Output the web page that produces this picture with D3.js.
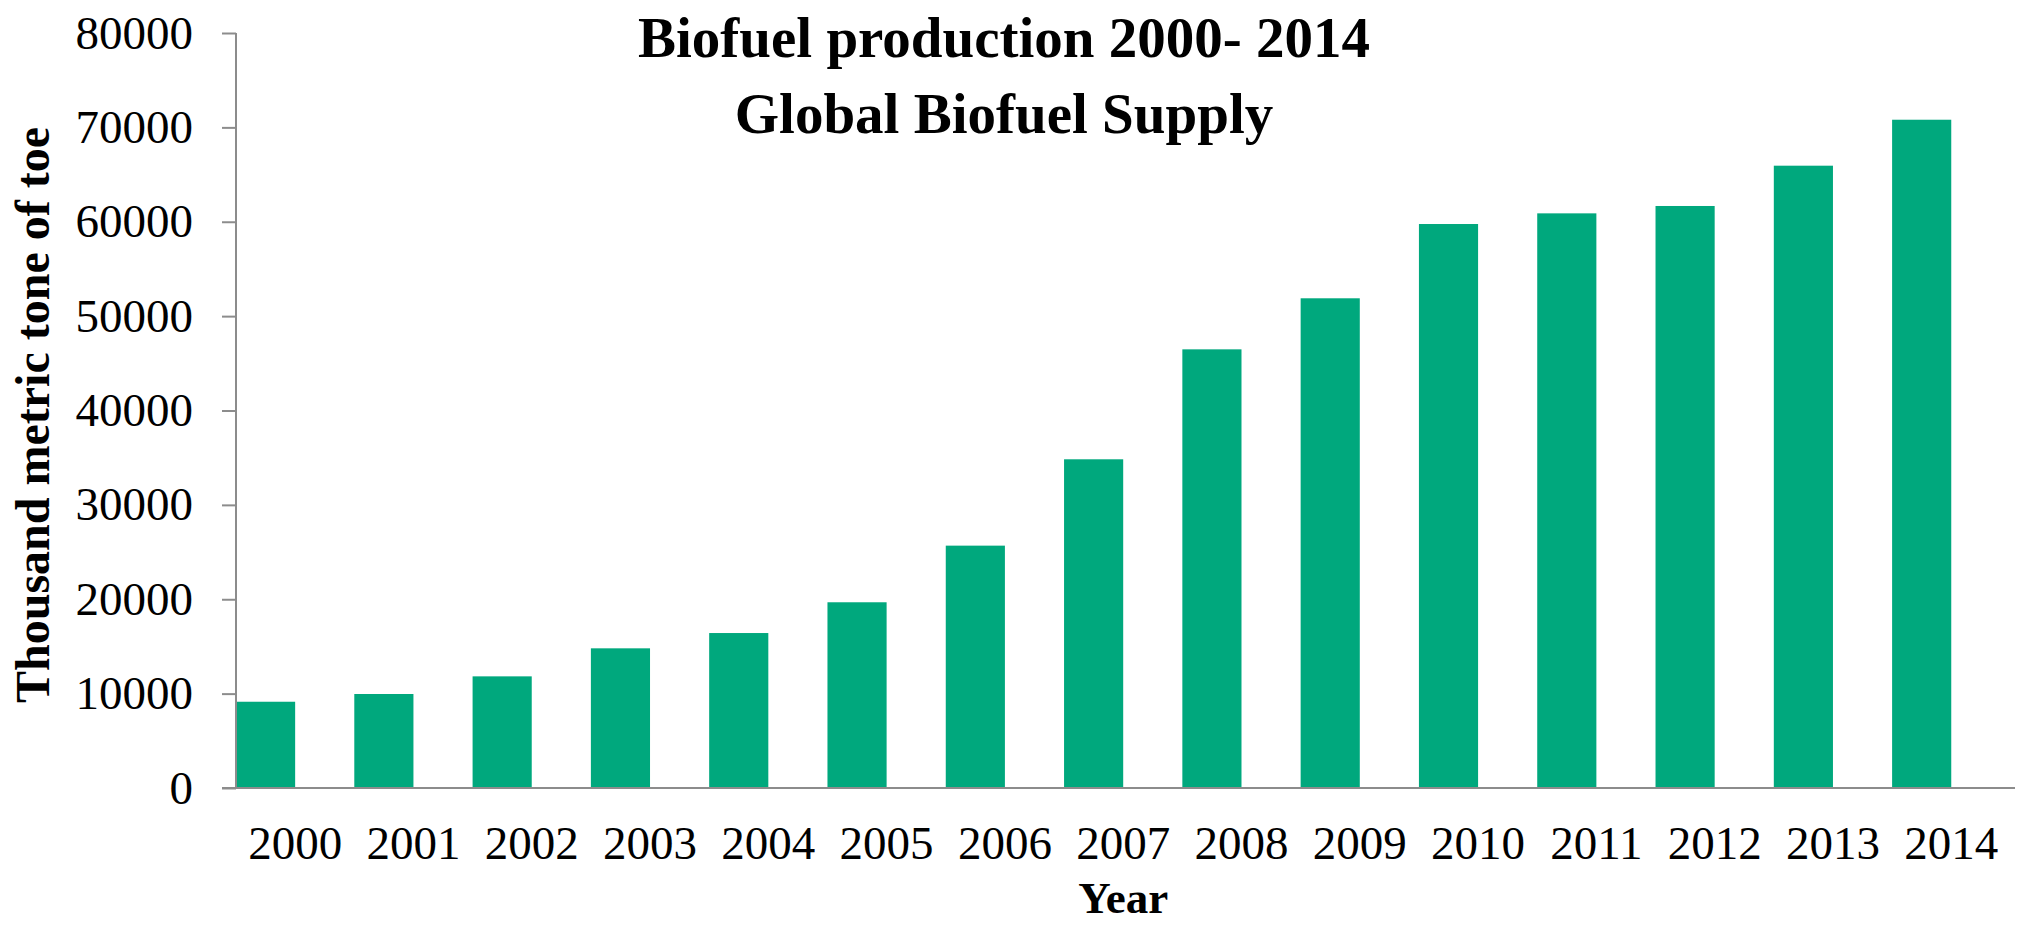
<!DOCTYPE html>
<html>
<head>
<meta charset="utf-8">
<script src="https://cdn.jsdelivr.net/npm/d3@7"></script>
<style>
  html, body { margin: 0; padding: 0; background: #fff; }
  svg { display: block; }
  text { font-family: "Liberation Serif", "Times New Roman", serif; fill: #000; }
</style>
</head>
<body>
<script>
const years = ["2000","2001","2002","2003","2004","2005","2006","2007","2008","2009","2010","2011","2012","2013","2014"];
const supply = [9140, 9960, 11830, 14800, 16420, 19680, 25680, 34830, 46480, 51890, 59760, 60890, 61670, 65940, 70810];
const yTicks = [0, 10000, 20000, 30000, 40000, 50000, 60000, 70000, 80000];
const titleLines = ["Biofuel production 2000- 2014", "Global Biofuel Supply"];
const xTitle = "Year";
const yTitle = "Thousand metric tone of toe";

(function () {
const W = 2021, H = 926;
const svg = d3.select("body").append("svg").attr("width", W).attr("height", H);

const pl = 236, pr = 2010.4, pt = 33, pb = 788;
const x = d3.scaleBand().domain(years).range([pl, pr]).paddingInner(0).paddingOuter(0);
const y = d3.scaleLinear().domain([0, 80000]).range([pb, pt]);
const axisColor = "#8c8c8c";

// bars
svg.append("g").selectAll("rect").data(years).join("rect")
  .attr("x", d => x(d))
  .attr("width", x.bandwidth() / 2)
  .attr("y", (d, i) => y(supply[i]))
  .attr("height", (d, i) => y(0) - y(supply[i]))
  .attr("fill", "#00a87d");

// y axis
const yAxis = svg.append("g").attr("transform", `translate(${pl},0)`)
  .call(d3.axisLeft(y).tickValues(yTicks).tickFormat(d3.format("d")).tickSize(14).tickPadding(29));
yAxis.select(".domain").attr("stroke", axisColor).attr("stroke-width", 2).attr("d", `M0,${pt}V${pb}`);
yAxis.selectAll(".tick line").attr("stroke", axisColor).attr("stroke-width", 2);
yAxis.selectAll(".tick text").attr("font-size", 47).attr("font-family", "Liberation Serif, Times New Roman, serif").attr("fill", "#000");

// x axis
const xAxis = svg.append("g").attr("transform", `translate(0,${pb})`)
  .call(d3.axisBottom(x).tickSize(0).tickPadding(38));
xAxis.select(".domain").attr("stroke", axisColor).attr("stroke-width", 2).attr("d", `M${pl - 14},0H2015`);
xAxis.selectAll(".tick text").attr("font-size", 47).attr("font-family", "Liberation Serif, Times New Roman, serif").attr("fill", "#000");

// titles
svg.append("g").selectAll("text").data(titleLines).join("text")
  .attr("x", 1004).attr("y", (d, i) => 57 + i * 76)
  .attr("text-anchor", "middle").attr("font-weight", "bold").attr("font-size", 57)
  .text(d => d);

svg.append("text").attr("x", (pl + pr) / 2).attr("y", 913)
  .attr("text-anchor", "middle").attr("font-weight", "bold").attr("font-size", 45)
  .text(xTitle);

svg.append("text").attr("transform", "translate(49,415) rotate(-90)")
  .attr("text-anchor", "middle").attr("font-weight", "bold").attr("font-size", 48)
  .text(yTitle);
})();
</script>
</body>
</html>
